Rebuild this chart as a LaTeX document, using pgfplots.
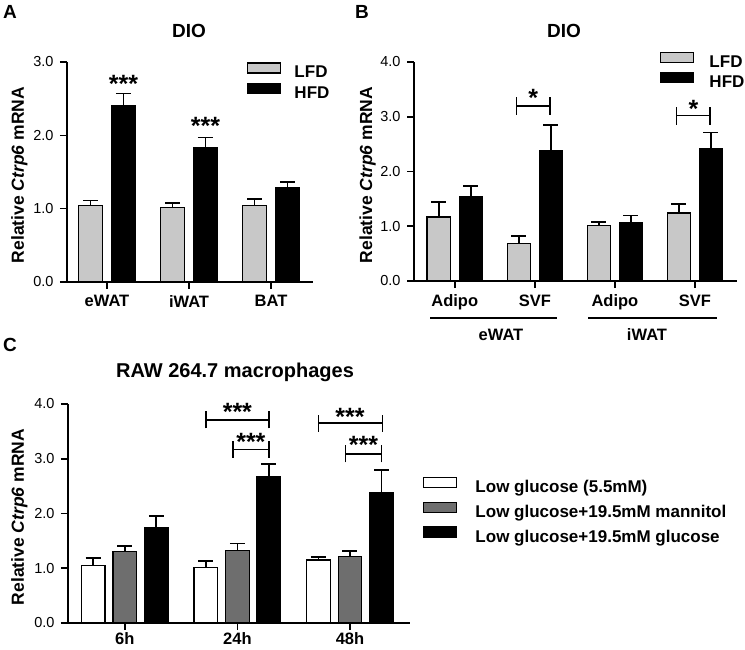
\documentclass[border=0pt]{standalone}
\usepackage{pgfplots}
\pgfplotsset{compat=1.18}
\usepackage{fontspec}
\setmainfont{Liberation Sans}
\definecolor{lfd}{RGB}{200,200,200}
\definecolor{mann}{RGB}{110,110,110}
\newcommand{\fs}[1]{\fontsize{#1}{#1}\selectfont}
\tikzset{brk/.style={line width=1.6pt, black}}
\pgfplotsset{
  gp/.style={
    scale only axis,
    axis x line*=bottom, axis y line*=left,
    axis line style={-, line width=1.7pt, black},
    tick align=outside,
    major tick length=7pt,
    tick style={line width=1.6pt, black},
    ymin=0,
    /pgf/number format/assume math mode=true,
    yticklabel style={/pgf/number format/.cd, fixed, fixed zerofill, precision=1, /tikz/.cd, font=\fs{14.5}, xshift=-3pt},
    xticklabel style={font=\bfseries\fs{16.5}, yshift=-3pt},
    clip=false,
    legend image code/.code={\draw[##1, line width=1.3pt] (0pt,1pt) rectangle (33pt,11pt);},
    legend cell align=left,
  },
  gbar/.style={ybar, bar shift=0pt, draw=black, line width=1.3pt, fill=#1,
     error bars/y dir=plus, error bars/y explicit,
     error bars/error bar style={line width=1.6pt, black},
     error bars/error mark options={rotate=90, mark size=7.5pt, line width=1.6pt, black}},
}
\newcommand{\stars}[1]{\bfseries\fs{25}#1}
\begin{document}
\begin{tikzpicture}
% ---------------- Panel A ----------------
\begin{axis}[gp, at={(67pt,367pt)}, anchor=south west, width=246pt, height=220pt,
  xmin=-0.488, xmax=2.512, ymax=3, ytick={0,1,2,3},
  xtick={0,1,2}, xticklabels={eWAT,iWAT,BAT}, bar width=0.29,
  legend style={at={(0.7317,1.0)}, anchor=north west, draw=none, fill=none, inner sep=0pt,
    font=\bfseries\fs{17}, row sep=1pt, nodes={inner sep=0pt, text height=12pt, text depth=4pt},
    /tikz/every odd column/.style={column sep=13pt}}]
\addplot[gbar=lfd] coordinates {(-0.2,1.04) +- (0,0.07) (0.8,1.02) +- (0,0.06) (1.8,1.04) +- (0,0.09)};
\addlegendentry{LFD}
\addplot[gbar=black] coordinates {(0.2,2.40) +- (0,0.17) (1.2,1.83) +- (0,0.14) (2.2,1.29) +- (0,0.07)};
\addlegendentry{HFD}
\node[anchor=north, inner sep=0pt] at (axis cs:0.2,2.82) {\stars{***}};
\node[anchor=north, inner sep=0pt] at (axis cs:1.2,2.25) {\stars{***}};
\end{axis}
% ---------------- Panel B ----------------
\begin{axis}[gp, at={(414pt,368pt)}, anchor=south west, width=323pt, height=219pt,
  xmin=-0.509, xmax=3.525, ymax=4, ytick={0,1,2,3,4},
  xtick={0,1,2,3}, xticklabels={Adipo,SVF,Adipo,SVF}, bar width=0.29,
  legend style={at={(0.7616,1.046)}, anchor=north west, draw=none, fill=none, inner sep=0pt,
    font=\bfseries\fs{17}, row sep=0pt, nodes={inner sep=0pt, text height=12pt, text depth=4pt},
    /tikz/every odd column/.style={column sep=15pt}}]
\addplot[gbar=lfd] coordinates {(-0.2,1.17) +- (0,0.27) (0.8,0.68) +- (0,0.14) (1.8,1.01) +- (0,0.07) (2.8,1.24) +- (0,0.17)};
\addlegendentry{LFD}
\addplot[gbar=black] coordinates {(0.2,1.54) +- (0,0.19) (1.2,2.38) +- (0,0.47) (2.2,1.07) +- (0,0.13) (3.2,2.42) +- (0,0.29)};
\addlegendentry{HFD}
\draw[brk] (axis cs:0.77,3.2) -- (axis cs:1.19,3.2);
\draw[brk] (axis cs:0.77,3.035) -- (axis cs:0.77,3.365);
\draw[brk] (axis cs:1.19,3.035) -- (axis cs:1.19,3.365);
\node[anchor=north, inner sep=0pt] at (axis cs:0.98,3.5) {\stars{*}};
\draw[brk] (axis cs:2.77,3.02) -- (axis cs:3.19,3.02);
\draw[brk] (axis cs:2.77,2.855) -- (axis cs:2.77,3.185);
\draw[brk] (axis cs:3.19,2.855) -- (axis cs:3.19,3.185);
\node[anchor=north, inner sep=0pt] at (axis cs:2.98,3.31) {\stars{*}};
\end{axis}
% ---------------- Panel C ----------------
\begin{axis}[gp, at={(68pt,26pt)}, anchor=south west, width=342pt, height=219pt,
  xmin=-0.504, xmax=2.533, ymax=4, ytick={0,1,2,3,4},
  xtick={0,1,2}, xticklabels={6h,24h,48h}, bar width=0.21,
  xticklabel style={yshift=2pt, inner sep=1pt},
  legend style={at={(1.038,0.667)}, anchor=north west, draw=none, fill=none, inner sep=0pt,
    font=\bfseries\fs{17}, row sep=5pt, nodes={inner sep=0pt, text height=12pt, text depth=4pt},
    /tikz/every odd column/.style={column sep=18pt}}]
\addplot[gbar=white] coordinates {(-0.28,1.05) +- (0,0.14) (0.72,1.02) +- (0,0.11) (1.72,1.15) +- (0,0.06)};
\addlegendentry{Low glucose (5.5mM)}
\addplot[gbar=mann] coordinates {(0,1.31) +- (0,0.10) (1,1.32) +- (0,0.13) (2,1.22) +- (0,0.09)};
\addlegendentry{Low glucose+19.5mM mannitol}
\addplot[gbar=black] coordinates {(0.28,1.75) +- (0,0.20) (1.28,2.67) +- (0,0.23) (2.28,2.39) +- (0,0.41)};
\addlegendentry{Low glucose+19.5mM glucose}
% 24h outer
\draw[brk] (axis cs:0.72,3.71) -- (axis cs:1.28,3.71);
\draw[brk] (axis cs:0.72,3.555) -- (axis cs:0.72,3.865);
\draw[brk] (axis cs:1.28,3.555) -- (axis cs:1.28,3.865);
\node[anchor=north, inner sep=0pt] at (axis cs:1.0,4.02) {\stars{***}};
% 24h inner
\draw[brk] (axis cs:0.96,3.17) -- (axis cs:1.28,3.17);
\draw[brk] (axis cs:0.96,3.015) -- (axis cs:0.96,3.325);
\draw[brk] (axis cs:1.28,3.015) -- (axis cs:1.28,3.325);
\node[anchor=north, inner sep=0pt] at (axis cs:1.12,3.47) {\stars{***}};
% 48h outer
\draw[brk] (axis cs:1.72,3.65) -- (axis cs:2.29,3.65);
\draw[brk] (axis cs:1.72,3.495) -- (axis cs:1.72,3.805);
\draw[brk] (axis cs:2.29,3.495) -- (axis cs:2.29,3.805);
\node[anchor=north, inner sep=0pt] at (axis cs:2.0,3.93) {\stars{***}};
% 48h inner
\draw[brk] (axis cs:1.96,3.09) -- (axis cs:2.28,3.09);
\draw[brk] (axis cs:1.96,2.935) -- (axis cs:1.96,3.245);
\draw[brk] (axis cs:2.28,2.935) -- (axis cs:2.28,3.245);
\node[anchor=north, inner sep=0pt] at (axis cs:2.12,3.41) {\stars{***}};
\end{axis}
% ---------------- Text annotations ----------------
\node[font=\bfseries\fs{19}, inner sep=0pt] at (10pt,637pt) {A};
\node[font=\bfseries\fs{19}, inner sep=0pt] at (362pt,637pt) {B};
\node[font=\bfseries\fs{19}, inner sep=0pt] at (10pt,304pt) {C};
\node[font=\bfseries\fs{19}, anchor=base, inner sep=0pt] at (189pt,611pt) {DIO};
\node[font=\bfseries\fs{19}, anchor=base, inner sep=0pt] at (564pt,611pt) {DIO};
\node[font=\bfseries\fs{20}, anchor=base, inner sep=0pt] at (235pt,271pt) {RAW 264.7 macrophages};
\node[font=\bfseries\fs{17.5}, rotate=90, anchor=base, inner sep=0pt] at (24pt,474pt) {Relative \textit{Ctrp6} mRNA};
\node[font=\bfseries\fs{17.5}, rotate=90, anchor=base, inner sep=0pt] at (372pt,474pt) {Relative \textit{Ctrp6} mRNA};
\node[font=\bfseries\fs{17.5}, rotate=90, anchor=base, inner sep=0pt] at (24pt,132pt) {Relative \textit{Ctrp6} mRNA};
\draw[line width=1.6pt] (430pt,331pt) -- (557pt,331pt);
\draw[line width=1.6pt] (588pt,331pt) -- (717pt,331pt);
\node[font=\bfseries\fs{16.5}, inner sep=0pt] at (501pt,314pt) {eWAT};
\node[font=\bfseries\fs{16.5}, inner sep=0pt] at (647pt,314pt) {iWAT};
\pgfresetboundingbox
\useasboundingbox (0,0) rectangle (745pt,649pt);
\end{tikzpicture}
\end{document}
